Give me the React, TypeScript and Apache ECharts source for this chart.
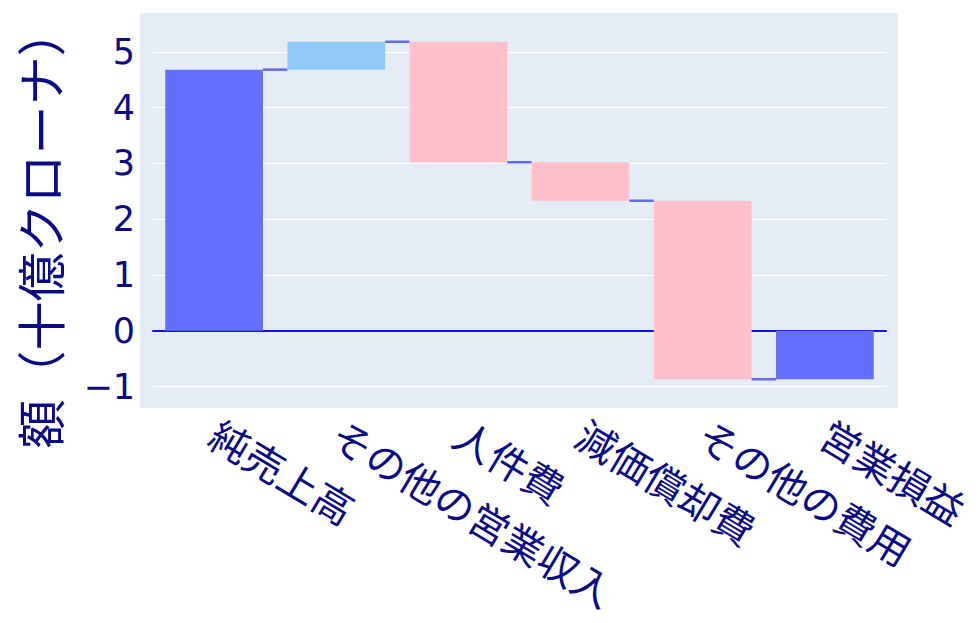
import React, { useEffect, useRef } from "react";
import * as echarts from "echarts";

const categories = ["純売上高", "その他の営業収入", "人件費", "減価償却費", "その他の費用", "営業損益"];
const measures = ["absolute", "relative", "relative", "relative", "relative", "total"];
const values = [4.68, 0.5, -2.16, -0.69, -3.2, 0];
const yTicks = [-1, 0, 1, 2, 3, 4, 5];
const yTitle = "額（十億クローナ）";

const COLOR_TOTAL = "#636EFA";
const COLOR_INC = "#90C8F8";
const COLOR_DEC = "#FFC0CB";
const NAVY = "#0B0B85";

export default function App() {
  const ref = useRef<HTMLDivElement>(null);
  useEffect(() => {
    if (!ref.current) return;
    const chart = echarts.init(ref.current, undefined, { renderer: "svg" });
    let run = 0;
    const segs: number[][] = [];
    categories.forEach((_, i) => {
      const m = measures[i];
      let s = 0, e = 0, k = 0;
      if (m === "absolute") { s = 0; e = values[i]; k = 0; run = e; }
      else if (m === "total") { s = 0; e = run; k = 0; }
      else { s = run; e = run + values[i]; k = values[i] >= 0 ? 1 : 2; run = e; }
      segs.push([i, s, e, k]);
    });
    const n = categories.length;
    const colors = [COLOR_TOTAL, COLOR_INC, COLOR_DEC];
    chart.setOption({
      animation: false,
      grid: { left: 153, right: 93, top: 25, bottom: 227, containLabel: false },
      graphic: [
        { type: "rect", z: -100, silent: true, shape: { x: 140, y: 13, width: 758, height: 395 }, style: { fill: "#E5ECF6" } },
        {
          type: "text", x: 38, y: 228, rotation: Math.PI / 2,
          style: { text: yTitle, fontSize: 49, fill: NAVY, fontFamily: "Noto Sans CJK JP", textAlign: "center", textVerticalAlign: "middle" },
        },
      ],
      xAxis: {
        type: "category",
        data: categories,
        axisTick: { show: false },
        axisLine: { show: true, onZero: true, lineStyle: { color: "#1212D8", width: 2 } },
        axisLabel: { interval: 0, rotate: -31, fontSize: 40, color: NAVY, fontFamily: "Noto Sans CJK JP", margin: 34 },
        splitLine: { show: false },
      },
      yAxis: {
        type: "value",
        min: -1.17,
        max: 5.48,
        axisLine: { show: false },
        axisTick: { show: false, customValues: yTicks },
        axisLabel: {
          customValues: yTicks,
          fontSize: 35, color: NAVY, fontFamily: "DejaVu Sans", margin: 18,
          formatter: (v: number) => (v < 0 ? "\u2212" + Math.abs(v) : String(v)),
        },
        splitLine: { show: true, lineStyle: { color: "#FFFFFF", width: 1 } },
      },
      series: [
        {
          type: "custom",
          data: segs,
          encode: { x: 0, y: [1, 2] },
          renderItem: (params: any, api: any) => {
            const i = api.value(0);
            const s = api.value(1);
            const e = api.value(2);
            const k = api.value(3);
            const p1 = api.coord([i, s]);
            const p2 = api.coord([i, e]);
            const band = api.size([1, 0])[0];
            const w = band * 0.8;
            const x = p1[0] - w / 2;
            const y = Math.min(p1[1], p2[1]);
            const h = Math.abs(p1[1] - p2[1]);
            const children: any[] = [
              { type: "rect", shape: { x, y, width: w, height: h }, style: { fill: colors[k] } },
            ];
            if (i < n - 1) {
              children.push({
                type: "line",
                shape: { x1: x + w, y1: p2[1], x2: x + band, y2: p2[1] },
                style: { stroke: "#5F6AEE", lineWidth: 2.5 },
              });
            }
            return { type: "group", children };
          },
        },
      ],
    });
    return () => chart.dispose();
  }, []);
  return <div ref={ref} style={{ position: "absolute", left: 0, top: 0, width: 979, height: 623 }} />;
}
